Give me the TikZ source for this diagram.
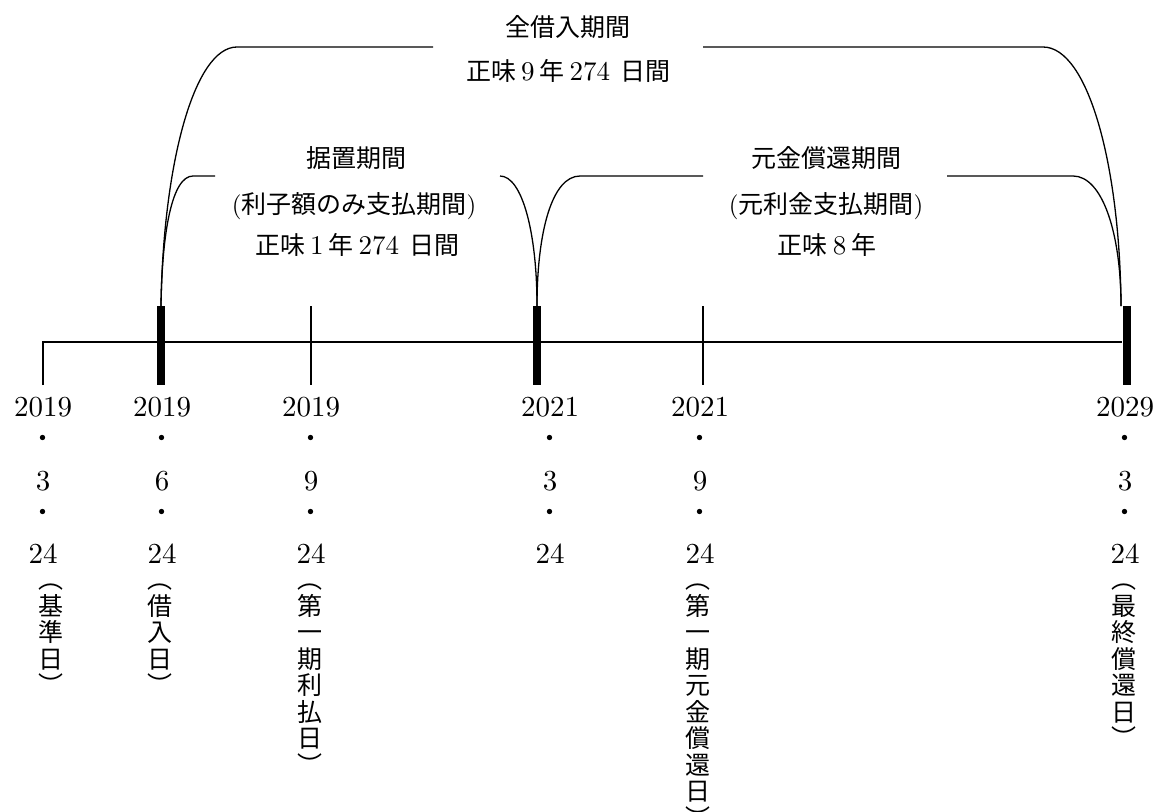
\documentclass[tikz,border=0pt]{standalone}
\usepackage{fontspec}
\setmainfont{lmroman10-regular}[Extension=.otf]
\newfontfamily\jp{Noto Sans CJK JP}
\newcommand\numx[1]{{\rmfamily\fontsize{27}{30}\selectfont #1}}
\tikzset{
  axisline/.style={line width=1.3pt},
  thintick/.style={line width=1.3pt},
  thicktick/.style={line width=8pt},
  brace/.style={line width=1.3pt},
  ptext/.style={inner sep=0pt, anchor=base, font=\jp\fontsize{25}{30}\selectfont},
  yeartext/.style={inner sep=0pt, anchor=base, font=\rmfamily\fontsize{29}{32}\selectfont},
  dottext/.style={inner sep=0pt, anchor=center, font=\jp\fontsize{25}{30}\selectfont},
  vtext/.style={inner sep=0pt, anchor=north, align=center, font=\jp\fontsize{25}{26.5}\selectfont},
}
\begin{document}
\begin{tikzpicture}[x=1pt,y=-1pt]
\useasboundingbox (0,0) rectangle (1158,811);
% timeline
\coordinate (a0) at (43,385);
\coordinate (a1) at (43,342);
\coordinate (a2) at (1122,342);
\draw[axisline] (a0) -- (a1) -- (a2);
% ticks
\coordinate (t1) at (161,306); \coordinate (b1) at (161,385);
\coordinate (t2) at (537,306); \coordinate (b2) at (537,385);
\coordinate (t3) at (1127,306); \coordinate (b3) at (1127,385);
\coordinate (s1) at (311,306); \coordinate (u1) at (311,385);
\coordinate (s2) at (703,306); \coordinate (u2) at (703,385);
\draw[thicktick] (t1) -- (b1);
\draw[thicktick] (t2) -- (b2);
\draw[thicktick] (t3) -- (b3);
\draw[thintick] (s1) -- (u1);
\draw[thintick] (s2) -- (u2);
\coordinate (c3) at (1121,306);
% brace end points
\coordinate (g1) at (433,47);
\coordinate (g2) at (703,47);
\coordinate (g3) at (215,176);
\coordinate (g4) at (500,176);
\coordinate (g5) at (703,176);
\coordinate (g6) at (947,176);
% braces
\draw[brace] (t1) .. controls (163,165) and (194,47) .. (237,47) -- (g1);
\draw[brace] (g2) -- (1043,47) .. controls (1088,47) and (1120,165) .. (c3);
\draw[brace] (t1) .. controls (162,232) and (172,176) .. (193,176) -- (g3);
\draw[brace] (g4) .. controls (522,176) and (537,232) .. (t2);
\draw[brace] (t2) .. controls (537,232) and (552,176) .. (580,176) -- (g5);
\draw[brace] (g6) -- (1073,176) .. controls (1102,176) and (1121,232) .. (c3);
% period labels
\node[ptext] (all1) at (568,36.5) {全借入期間};
\node[ptext] (all2) at (568,80.5) {正味\hspace{5pt}\numx{9}\hspace{5pt}年\hspace{5pt}\numx{274}\hspace{10pt}日間};
\node[ptext] (def1) at (356,167.5) {据置期間};
\node[ptext] (def2) at (354,213.5) {{\rmfamily(}利子額のみ支払期間{\rmfamily)}};
\node[ptext] (def3) at (357,254.5) {正味\hspace{5pt}\numx{1}\hspace{5pt}年\hspace{5pt}\numx{274}\hspace{10pt}日間};
\node[ptext] (rep1) at (826,167.5) {元金償還期間};
\node[ptext] (rep2) at (826,213.5) {{\rmfamily(}元利金支払期間{\rmfamily)}};
\node[ptext] (rep3) at (827,254.5) {正味\hspace{5pt}\numx{8}\hspace{5pt}年};
% date labels
\foreach \x/\yr/\mo/\n in {43/2019/3/a, 162/2019/6/b, 311/2019/9/c, 550/2021/3/d, 700/2021/9/e, 1125/2029/3/f}{
  \node[yeartext] (yr\n) at (\x,416) {\yr};
  \node[dottext] (dA\n) at (\x,441) {・};
  \node[yeartext] (mo\n) at (\x,490) {\mo};
  \node[dottext] (dB\n) at (\x,515) {・};
  \node[yeartext] (dy\n) at (\x,563) {24};
}
% vertical notes
\node[vtext] (na) at (51,584) {︵\\基\\準\\日\\︶};
\node[vtext] (nb) at (160,584) {︵\\借\\入\\日\\︶};
\node[vtext] (nc) at (310,584) {︵\\第\\一\\期\\利\\払\\日\\︶};
\node[vtext] (ne) at (698,584) {︵\\第\\一\\期\\元\\金\\償\\還\\日\\︶};
\node[vtext] (nf) at (1124,584) {︵\\最\\終\\償\\還\\日\\︶};
\end{tikzpicture}
\end{document}
